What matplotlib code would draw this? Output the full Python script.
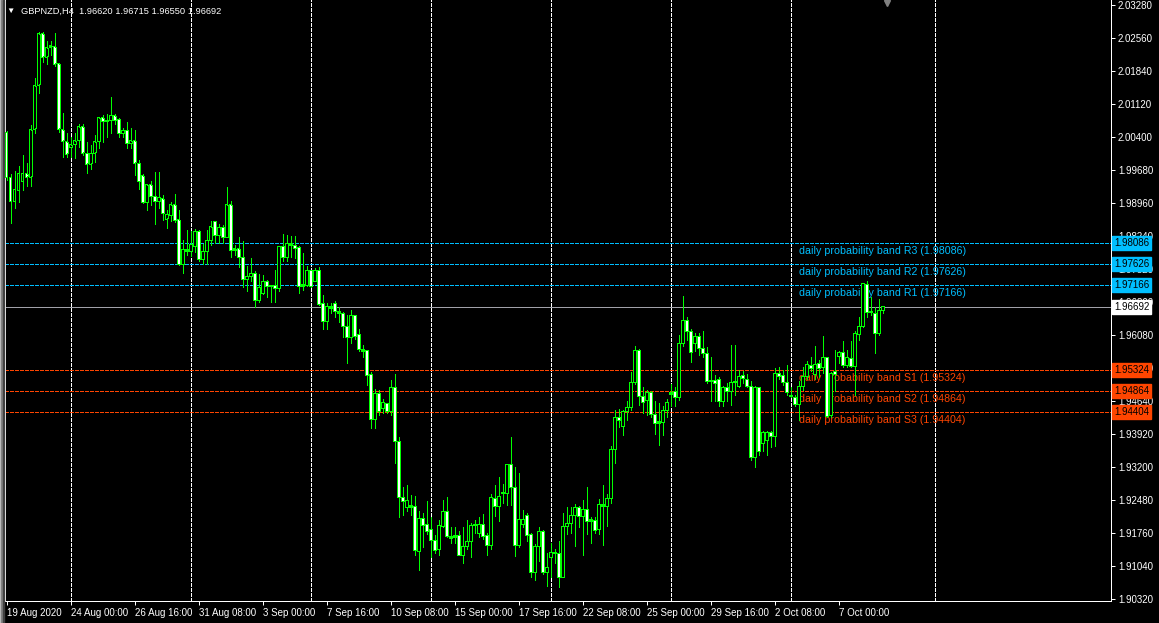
import numpy as np
import pandas as pd
import matplotlib
matplotlib.use("Agg")
import matplotlib.pyplot as plt
import matplotlib.transforms as mtransforms
from matplotlib.patches import Rectangle

# GBPNZD H4 candles (bar 0 = 19 Aug 2020 08:00)
symbol = "GBPNZD,H4"
first_bar = "2020-08-19 08:00"

opens = [
    2.0049, 1.9951, 1.9899, 1.9923, 1.9943, 1.9961, 1.9951, 2.0057, 2.0152, 2.0265,
    2.0213, 2.0235, 2.0237, 2.0201, 2.0056, 2.0030, 2.0017, 2.0023, 2.0032, 2.0062,
    2.0005, 1.9981, 2.0005, 2.0030, 2.0082, 2.0073, 2.0075, 2.0086, 2.0079, 2.0047,
    2.0054, 2.0025, 2.0032, 1.9983, 1.9955, 1.9896, 1.9936, 1.9910, 1.9899, 1.9905,
    1.9861, 1.9868, 1.9892, 1.9859, 1.9761, 1.9794, 1.9790, 1.9801, 1.9834, 1.9772,
    1.9790, 1.9814, 1.9855, 1.9825, 1.9842, 1.9821, 1.9892, 1.9792, 1.9796, 1.9777,
    1.9729, 1.9735, 1.9743, 1.9683, 1.9698, 1.9725, 1.9714, 1.9716, 1.9709, 1.9801,
    1.9777, 1.9807, 1.9803, 1.9799, 1.9714, 1.9716, 1.9748, 1.9725, 1.9748, 1.9676,
    1.9637, 1.9665, 1.9676, 1.9659, 1.9656, 1.9626, 1.9603, 1.9650, 1.9609, 1.9576,
    1.9574, 1.9521, 1.9423, 1.9480, 1.9447, 1.9458, 1.9441, 1.9494, 1.9376, 1.9254,
    1.9232, 1.9236, 1.9234, 1.9136, 1.9207, 1.9194, 1.9184, 1.9160, 1.9140, 1.9190,
    1.9223, 1.9169, 1.9167, 1.9171, 1.9127, 1.9147, 1.9158, 1.9192, 1.9175, 1.9194,
    1.9171, 1.9149, 1.9251, 1.9234, 1.9262, 1.9262, 1.9325, 1.9276, 1.9149, 1.9194,
    1.9214, 1.9173, 1.9089, 1.9147, 1.9180, 1.9089, 1.9123, 1.9131, 1.9131, 1.9079,
    1.9190, 1.9196, 1.9214, 1.9232, 1.9212, 1.9227, 1.9205, 1.9203, 1.9184, 1.9234,
    1.9234, 1.9251, 1.9358, 1.9428, 1.9408, 1.9441, 1.9450, 1.9504, 1.9574, 1.9474,
    1.9465, 1.9482, 1.9434, 1.9419, 1.9417, 1.9443, 1.9478, 1.9485, 1.9472, 1.9589,
    1.9639, 1.9616, 1.9589, 1.9605, 1.9578, 1.9567, 1.9507, 1.9509, 1.9512, 1.9463,
    1.9494, 1.9485, 1.9504, 1.9496, 1.9519, 1.9512, 1.9496, 1.9341, 1.9494, 1.9371,
    1.9378, 1.9395, 1.9387, 1.9525, 1.9519, 1.9504, 1.9476, 1.9472, 1.9456, 1.9496,
    1.9517, 1.9541, 1.9521, 1.9545, 1.9537, 1.9559, 1.9432, 1.9528, 1.9561, 1.9569,
    1.9541, 1.9556, 1.9539, 1.9609, 1.9626, 1.9718, 1.9656, 1.9656, 1.9611, 1.96620,
]
highs = [
    2.0054, 1.9959, 1.9966, 1.9977, 2.0001, 1.9983, 2.0066, 2.0169, 2.0270, 2.0270,
    2.0250, 2.0250, 2.0267, 2.0201, 2.0092, 2.0049, 2.0039, 2.0049, 2.0068, 2.0068,
    2.0030, 2.0023, 2.0045, 2.0084, 2.0088, 2.0090, 2.0128, 2.0090, 2.0082, 2.0060,
    2.0073, 2.0060, 2.0056, 1.9990, 1.9959, 1.9938, 1.9945, 1.9964, 1.9964, 1.9914,
    1.9881, 1.9899, 1.9916, 1.9881, 1.9816, 1.9836, 1.9834, 1.9839, 1.9836, 1.9807,
    1.9838, 1.9857, 1.9857, 1.9850, 1.9848, 1.9930, 1.9901, 1.9805, 1.9821, 1.9812,
    1.9759, 1.9777, 1.9748, 1.9741, 1.9739, 1.9729, 1.9718, 1.9750, 1.9801, 1.9829,
    1.9827, 1.9823, 1.9823, 1.9803, 1.9787, 1.9759, 1.9750, 1.9755, 1.9757, 1.9696,
    1.9678, 1.9678, 1.9683, 1.9670, 1.9659, 1.9652, 1.9663, 1.9652, 1.9621, 1.9587,
    1.9576, 1.9528, 1.9491, 1.9489, 1.9469, 1.9460, 1.9509, 1.9523, 1.9385, 1.9276,
    1.9280, 1.9258, 1.9256, 1.9225, 1.9220, 1.9245, 1.9210, 1.9171, 1.9205, 1.9247,
    1.9254, 1.9188, 1.9188, 1.9180, 1.9190, 1.9205, 1.9198, 1.9205, 1.9210, 1.9218,
    1.9177, 1.9260, 1.9280, 1.9299, 1.9282, 1.9325, 1.9385, 1.9319, 1.9307, 1.9227,
    1.9220, 1.9175, 1.9151, 1.9190, 1.9182, 1.9133, 1.9155, 1.9140, 1.9158, 1.9220,
    1.9232, 1.9232, 1.9240, 1.9234, 1.9249, 1.9276, 1.9210, 1.9210, 1.9251, 1.9280,
    1.9260, 1.9365, 1.9445, 1.9447, 1.9445, 1.9463, 1.9528, 1.9583, 1.9578, 1.9494,
    1.9487, 1.9485, 1.9465, 1.9460, 1.9452, 1.9469, 1.9500, 1.9494, 1.9607, 1.9694,
    1.9648, 1.9620, 1.9613, 1.9613, 1.9616, 1.9581, 1.9561, 1.9521, 1.9517, 1.9496,
    1.9504, 1.9587, 1.9587, 1.9532, 1.9530, 1.9523, 1.9507, 1.9496, 1.9494, 1.9398,
    1.9398, 1.9398, 1.9537, 1.9539, 1.9532, 1.9543, 1.9494, 1.9478, 1.9507, 1.9539,
    1.9552, 1.9561, 1.9583, 1.9554, 1.9605, 1.9561, 1.9528, 1.9576, 1.9574, 1.9594,
    1.9576, 1.9594, 1.9616, 1.9648, 1.9722, 1.9725, 1.9690, 1.9670, 1.9687, 1.96715,
]
lows = [
    1.9947, 1.9852, 1.9886, 1.9899, 1.9925, 1.9932, 1.9932, 2.0049, 2.0136, 2.0204,
    2.0199, 2.0219, 2.0195, 2.0052, 1.9997, 1.9997, 1.9997, 1.9995, 2.0019, 2.0001,
    1.9961, 1.9970, 1.9986, 2.0017, 2.0030, 2.0041, 2.0049, 2.0068, 2.0041, 2.0039,
    2.0017, 2.0017, 1.9957, 1.9927, 1.9896, 1.9881, 1.9892, 1.9850, 1.9886, 1.9859,
    1.9842, 1.9857, 1.9855, 1.9761, 1.9743, 1.9783, 1.9781, 1.9790, 1.9770, 1.9763,
    1.9763, 1.9805, 1.9809, 1.9809, 1.9809, 1.9821, 1.9779, 1.9783, 1.9757, 1.9712,
    1.9703, 1.9725, 1.9670, 1.9681, 1.9698, 1.9690, 1.9681, 1.9681, 1.9703, 1.9770,
    1.9770, 1.9779, 1.9777, 1.9700, 1.9707, 1.9714, 1.9712, 1.9725, 1.9674, 1.9620,
    1.9621, 1.9656, 1.9648, 1.9637, 1.9603, 1.9547, 1.9591, 1.9600, 1.9572, 1.9559,
    1.9498, 1.9406, 1.9406, 1.9434, 1.9438, 1.9438, 1.9434, 1.9329, 1.9210, 1.9216,
    1.9223, 1.9216, 1.9127, 1.9096, 1.9145, 1.9173, 1.9123, 1.9133, 1.9129, 1.9188,
    1.9167, 1.9155, 1.9155, 1.9127, 1.9111, 1.9140, 1.9123, 1.9177, 1.9167, 1.9162,
    1.9127, 1.9140, 1.9212, 1.9203, 1.9242, 1.9236, 1.9238, 1.9125, 1.9145, 1.9190,
    1.9158, 1.9081, 1.9073, 1.9114, 1.9087, 1.9060, 1.9081, 1.9111, 1.9058, 1.9079,
    1.9173, 1.9177, 1.9147, 1.9190, 1.9129, 1.9173, 1.9155, 1.9177, 1.9173, 1.9149,
    1.9192, 1.9242, 1.9329, 1.9408, 1.9389, 1.9423, 1.9445, 1.9500, 1.9456, 1.9438,
    1.9434, 1.9428, 1.9391, 1.9369, 1.9389, 1.9430, 1.9452, 1.9452, 1.9467, 1.9583,
    1.9598, 1.9550, 1.9574, 1.9565, 1.9559, 1.9504, 1.9463, 1.9463, 1.9454, 1.9452,
    1.9463, 1.9456, 1.9478, 1.9494, 1.9504, 1.9494, 1.9336, 1.9321, 1.9347, 1.9354,
    1.9347, 1.9363, 1.9365, 1.9511, 1.9498, 1.9478, 1.9472, 1.9452, 1.9423, 1.9489,
    1.9512, 1.9530, 1.9511, 1.9517, 1.9525, 1.9428, 1.9430, 1.9485, 1.9547, 1.9539,
    1.9539, 1.9539, 1.9478, 1.9598, 1.9626, 1.9648, 1.9652, 1.9569, 1.9609, 1.96550,
]
closes = [
    1.9951, 1.9899, 1.9925, 1.9961, 1.9961, 1.9951, 2.0057, 2.0152, 2.0265, 2.0213,
    2.0235, 2.0239, 2.0199, 2.0056, 2.0030, 2.0001, 2.0023, 2.0032, 2.0062, 2.0005,
    1.9981, 2.0005, 2.0030, 2.0082, 2.0073, 2.0077, 2.0088, 2.0075, 2.0047, 2.0054,
    2.0025, 2.0032, 1.9983, 1.9943, 1.9896, 1.9936, 1.9910, 1.9899, 1.9908, 1.9872,
    1.9872, 1.9892, 1.9857, 1.9761, 1.9794, 1.9790, 1.9805, 1.9834, 1.9772, 1.9790,
    1.9814, 1.9844, 1.9825, 1.9842, 1.9821, 1.9892, 1.9792, 1.9796, 1.9777, 1.9729,
    1.9735, 1.9743, 1.9683, 1.9712, 1.9725, 1.9714, 1.9716, 1.9709, 1.9801, 1.9777,
    1.9807, 1.9803, 1.9796, 1.9714, 1.9718, 1.9748, 1.9714, 1.9748, 1.9674, 1.9637,
    1.9670, 1.9670, 1.9659, 1.9654, 1.9626, 1.9603, 1.9650, 1.9605, 1.9576, 1.9572,
    1.9519, 1.9423, 1.9480, 1.9441, 1.9460, 1.9441, 1.9494, 1.9376, 1.9254, 1.9245,
    1.9247, 1.9232, 1.9138, 1.9207, 1.9192, 1.9180, 1.9160, 1.9138, 1.9192, 1.9223,
    1.9169, 1.9164, 1.9171, 1.9127, 1.9147, 1.9158, 1.9192, 1.9194, 1.9194, 1.9169,
    1.9149, 1.9254, 1.9234, 1.9256, 1.9264, 1.9325, 1.9276, 1.9149, 1.9205, 1.9205,
    1.9171, 1.9089, 1.9147, 1.9180, 1.9089, 1.9101, 1.9133, 1.9133, 1.9079, 1.9190,
    1.9196, 1.9214, 1.9232, 1.9212, 1.9227, 1.9201, 1.9201, 1.9182, 1.9238, 1.9238,
    1.9251, 1.9358, 1.9428, 1.9421, 1.9441, 1.9450, 1.9504, 1.9574, 1.9474, 1.9460,
    1.9482, 1.9434, 1.9414, 1.9414, 1.9443, 1.9460, 1.9482, 1.9472, 1.9589, 1.9639,
    1.9616, 1.9569, 1.9605, 1.9578, 1.9567, 1.9507, 1.9509, 1.9502, 1.9463, 1.9494,
    1.9485, 1.9504, 1.9507, 1.9517, 1.9512, 1.9496, 1.9341, 1.9494, 1.9354, 1.9395,
    1.9395, 1.9387, 1.9525, 1.9517, 1.9504, 1.9482, 1.9474, 1.9456, 1.9496, 1.9517,
    1.9543, 1.9534, 1.9543, 1.9534, 1.9559, 1.9430, 1.9525, 1.9521, 1.9569, 1.9541,
    1.9559, 1.9539, 1.9611, 1.9626, 1.9720, 1.9656, 1.9659, 1.9611, 1.9661, 1.96692,
]

band_names = ["R3", "R2", "R1", "S1", "S2", "S3"]
band_levels = [1.98086, 1.97626, 1.97166, 1.95324, 1.94864, 1.94404]
band_label_time = "2020-10-05 08:00"

price_ticks = [2.03280, 2.02560, 2.01840, 2.01120, 2.00400, 1.99680, 1.98960,
               1.98240, 1.97520, 1.96800, 1.96080, 1.95360, 1.94640, 1.93920,
               1.93200, 1.92480, 1.91760, 1.91040, 1.90320]

date_label_times = ["2020-08-19 08:00", "2020-08-24 00:00", "2020-08-26 16:00",
                    "2020-08-31 08:00", "2020-09-03 00:00", "2020-09-07 16:00",
                    "2020-09-10 08:00", "2020-09-15 00:00", "2020-09-17 16:00",
                    "2020-09-22 08:00", "2020-09-25 00:00", "2020-09-29 16:00",
                    "2020-10-02 08:00", "2020-10-07 00:00"]
date_labels = ["19 Aug 2020", "24 Aug 00:00", "26 Aug 16:00", "31 Aug 08:00",
               "3 Sep 00:00", "7 Sep 16:00", "10 Sep 08:00", "15 Sep 00:00",
               "17 Sep 16:00", "22 Sep 08:00", "25 Sep 00:00", "29 Sep 16:00",
               "2 Oct 08:00", "7 Oct 00:00"]
grid_times = ["2020-08-24 00:00", "2020-08-31 00:00", "2020-09-07 00:00",
              "2020-09-14 00:00", "2020-09-21 00:00", "2020-09-28 00:00",
              "2020-10-05 00:00", "2020-10-13 00:00"]

# colours (MT4 green-on-black scheme)
BULL_FACE = "black"
BEAR_FACE = "white"
CANDLE_EDGE = "#00FF00"
RES_COLOR = "#00BFFF"
SUP_COLOR = "#FF4500"
PRICE_LINE = "#A0A0A8"
FONT = ["Liberation Sans", "DejaVu Sans"]
ONE_PX = 0.72  # one pixel in points at dpi 100

# H4 bar calendar without weekends
bar_times = pd.date_range(first_bar, periods=500, freq="4h")
bar_times = bar_times[bar_times.dayofweek < 5]


def bar_index(t):
    return int(bar_times.get_loc(pd.Timestamp(t)))


o = np.array(opens)
h = np.array(highs)
l = np.array(lows)
c = np.array(closes)
x = np.arange(len(o))

W, H = 1159, 623
fig = plt.figure(figsize=(W / 100, H / 100), dpi=100, facecolor="black")
ax = fig.add_axes([5 / W, (H - 601) / H, 1106 / W, 601 / H])
ax.set_facecolor("black")

px = 0.0072 / 33  # price per pixel
ax.set_ylim(2.0328 - 596 * px, 2.0328 + 5 * px)
ax.set_xlim(-0.375, 276.1)

# weekly grid
for t in grid_times:
    ax.axvline(bar_index(t), color="white", lw=ONE_PX, dashes=(3, 2),
               antialiased=False, zorder=1)

# band lines and labels
xlab = bar_index(band_label_time)
for name, lvl in zip(band_names, band_levels):
    col = RES_COLOR if name.startswith("R") else SUP_COLOR
    ax.axhline(lvl, color=col, lw=ONE_PX, dashes=(3, 2), antialiased=False, zorder=2)
    ax.text(xlab, lvl - 3 * px, f"daily probability band {name} ({lvl:.5f})",
            color=col, fontsize=7.7, family=FONT, ha="left", va="top", zorder=2)

# current price line
ax.axhline(c[-1], color=PRICE_LINE, lw=ONE_PX, antialiased=False, zorder=2)

# candles: wick, 3 px green body, 1 px inner fill (white = bear, black = bull)
ax.vlines(x, l, h, color=CANDLE_EDGE, lw=ONE_PX, antialiased=False, zorder=3)
body_low = np.minimum(o, c)
body_h = np.maximum(np.abs(c - o), px)
ax.bar(x, body_h, bottom=body_low, width=0.75, color=CANDLE_EDGE, linewidth=0,
       antialiased=False, snap=False, zorder=4)
faces = [BEAR_FACE if cc < oo else BULL_FACE for oo, cc in zip(o, c)]
inner = body_h > 2.5 * px
ax.bar(x[inner], body_h[inner] - 2 * px, bottom=body_low[inner] + px, width=0.25,
       color=[f for f, k in zip(faces, inner) if k], linewidth=0,
       antialiased=False, snap=False, zorder=5)

# axes frame
ax.spines["top"].set_visible(False)
for side in ["left", "right", "bottom"]:
    ax.spines[side].set_color("white")
    ax.spines[side].set_linewidth(ONE_PX)

# price scale on the right
ax.yaxis.tick_right()
ax.set_yticks(price_ticks)
ax.set_yticklabels([f"{v:.5f}" for v in price_ticks], family=FONT)
ax.tick_params(axis="y", colors="white", length=3, width=ONE_PX, pad=2, labelsize=7)

# time scale
ax.set_xticks([bar_index(t) for t in date_label_times])
ax.set_xticklabels(date_labels, family=FONT, ha="left")
ax.tick_params(axis="x", colors="white", length=3, width=ONE_PX, pad=2, labelsize=7)

# price tags on the scale
trans = mtransforms.blended_transform_factory(ax.transAxes, ax.transData)
for name, lvl in zip(band_names, band_levels):
    col = RES_COLOR if name.startswith("R") else SUP_COLOR
    ax.text(1.0 + 3 / 1106, lvl, f"{lvl:.5f}", transform=trans, ha="left", va="center",
            fontsize=7, family=FONT, color="black", clip_on=False, zorder=10,
            bbox=dict(boxstyle="square,pad=0.2", facecolor=col, edgecolor=col))
ax.text(1.0 + 3 / 1106, c[-1], f"{c[-1]:.5f}", transform=trans, ha="left", va="center",
        fontsize=7, family=FONT, color="black", clip_on=False, zorder=10,
        bbox=dict(boxstyle="square,pad=0.2", facecolor="white", edgecolor="white"))

# chart shift marker
ax.plot([len(o)], [2.0328 + 2 * px], marker="v", markersize=5, color="#808080",
        clip_on=False, zorder=5)

# window frame at the left edge
fig.add_artist(Rectangle((0, 0), 1 / W, 1, transform=fig.transFigure, color="#C8C8C8"))
fig.add_artist(Rectangle((1 / W, 0), 2 / W, 1, transform=fig.transFigure, color="#808080"))
fig.add_artist(Rectangle((3 / W, 0), 1 / W, 1, transform=fig.transFigure, color="#404040"))

# header
fig.text(10 / W, 1 - 11 / H, "\u25bc", color="white", fontsize=6, family=FONT,
         ha="center", va="center")
fig.text(21 / W, 1 - 11 / H,
         f"{symbol}  {o[-1]:.5f} {h[-1]:.5f} {l[-1]:.5f} {c[-1]:.5f}",
         color="white", fontsize=6.7, family=FONT, ha="left", va="center")

fig.savefig("out.png", dpi=100, facecolor="black")
